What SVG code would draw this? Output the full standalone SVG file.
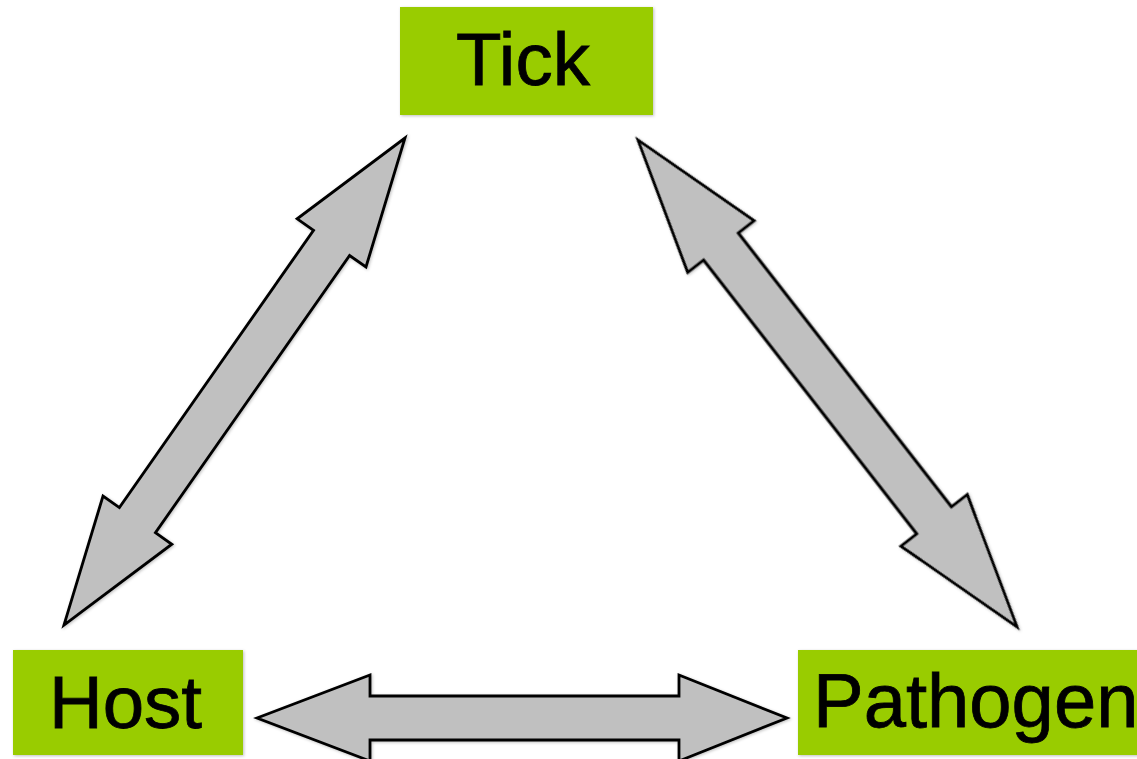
<svg xmlns="http://www.w3.org/2000/svg" width="1137" height="759" viewBox="0 0 1137 759">
  <defs>
    <filter id="soft" x="-10%" y="-10%" width="120%" height="120%">
      <feGaussianBlur in="SourceAlpha" stdDeviation="1.5"/>
      <feOffset dx="1" dy="1" result="b"/>
      <feFlood flood-color="#000" flood-opacity="0.25"/>
      <feComposite in2="b" operator="in"/>
      <feMerge><feMergeNode/><feMergeNode in="SourceGraphic"/></feMerge>
    </filter>
  </defs>
  <style>
    .box { fill: #99cc00; }
    .lbl { font-family: "Liberation Sans", Arial, sans-serif; font-size: 74px; fill: #000; stroke: #000; stroke-width: 0.8; }
    .arr { fill: #c0c0c0; stroke: #000; stroke-width: 2.8; stroke-linejoin: miter; }
  </style>
  <rect width="1137" height="759" fill="#ffffff"/>
  <g id="connectors" filter="url(#soft)">
    <!-- Host <-> Tick -->
    <polygon class="arr" transform="translate(64,625) rotate(-55)" points="0,0 128,-42 128,-22 466.5,-22 466.5,-42 594.5,0 466.5,42 466.5,22 128,22 128,42"/>
    <!-- Tick <-> Pathogen -->
    <polygon class="arr" transform="translate(638,140) rotate(52.1)" points="0,0 135,-42 135,-22 482,-22 482,-42 617,0 482,42 482,22 135,22 135,42"/>
    <!-- Host <-> Pathogen -->
    <polygon class="arr" transform="translate(257,718)" points="0,0 113,-43 113,-22 422,-22 422,-43 530,0 422,43 422,22 113,22 113,43"/>
  </g>
  <g id="tick" filter="url(#soft)">
    <rect class="box" x="400" y="7" width="253" height="108"/>
    <text class="lbl" x="456" y="85" textLength="134" lengthAdjust="spacingAndGlyphs">Tick</text>
  </g>
  <g id="host" filter="url(#soft)">
    <rect class="box" x="13" y="650" width="230" height="105"/>
    <text class="lbl" x="49" y="728" textLength="153" lengthAdjust="spacingAndGlyphs">Host</text>
  </g>
  <g id="pathogen" filter="url(#soft)">
    <rect class="box" x="798" y="650" width="345" height="105"/>
    <text class="lbl" x="813" y="727" style="font-size:76px">Pathogen</text>
  </g>
</svg>
